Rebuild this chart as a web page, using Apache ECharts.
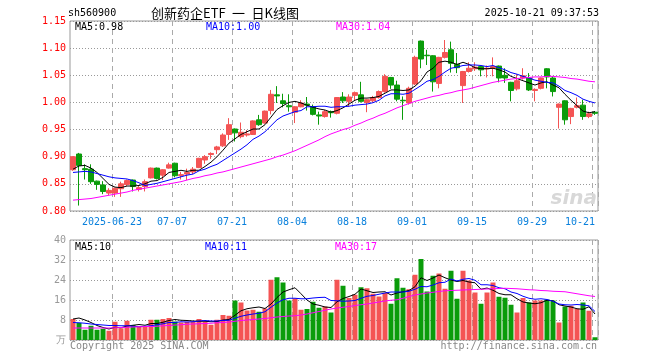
<!DOCTYPE html>
<html><head><meta charset="utf-8">
<script src="https://cdn.jsdelivr.net/npm/echarts@6/dist/echarts.min.js"></script>
<style>html,body{margin:0;padding:0;background:#fff}#c{width:660px;height:360px}</style>
</head><body><div id="c"></div>
<script>
const dates = ['2025-06-12','2025-06-13','2025-06-16','2025-06-17','2025-06-18','2025-06-19','2025-06-20',
'2025-06-23','2025-06-24','2025-06-25','2025-06-26','2025-06-27','2025-06-30','2025-07-01','2025-07-02','2025-07-03','2025-07-04',
'2025-07-07','2025-07-08','2025-07-09','2025-07-10','2025-07-11','2025-07-14','2025-07-15','2025-07-16','2025-07-17','2025-07-18',
'2025-07-21','2025-07-22','2025-07-23','2025-07-24','2025-07-25','2025-07-28','2025-07-29','2025-07-30','2025-07-31','2025-08-01',
'2025-08-04','2025-08-05','2025-08-06','2025-08-07','2025-08-08','2025-08-11','2025-08-12','2025-08-13','2025-08-14','2025-08-15',
'2025-08-18','2025-08-19','2025-08-20','2025-08-21','2025-08-22','2025-08-25','2025-08-26','2025-08-27','2025-08-28','2025-08-29',
'2025-09-01','2025-09-02','2025-09-03','2025-09-04','2025-09-05','2025-09-08','2025-09-09','2025-09-10','2025-09-11','2025-09-12',
'2025-09-15','2025-09-16','2025-09-17','2025-09-18','2025-09-19','2025-09-22','2025-09-23','2025-09-24','2025-09-25','2025-09-26',
'2025-09-29','2025-09-30','2025-10-09','2025-10-10','2025-10-13','2025-10-14','2025-10-15','2025-10-16','2025-10-17','2025-10-20',
'2025-10-21'];
const opens = [.876,.905,.878,.877,.855,.848,.833,.833,.841,.849,.857,.840,.845,.861,.879,.866,.879,.888,.865,.868,.872,.880,.894,.904,.913,.920,.941,.951,.937,.940,
.941,.968,.962,.985,1.014,1.003,.994,.982,.992,.997,.992,.977,.974,.983,.980,1.010,1.002,1.013,1.014,1.000,1.003,1.009,1.020,1.046,1.032,1.004,.999,1.034,1.113,1.087,
1.086,1.035,1.083,1.097,1.070,1.031,1.057,1.062,1.066,1.062,1.063,1.067,1.050,1.037,1.025,1.045,1.045,1.022,1.026,1.062,1.045,.991,1.003,.974,.991,.995,.974,.982];
const closes = [.900,.884,.876,.854,.849,.836,.838,.842,.850,.856,.845,.843,.854,.879,.860,.876,.885,.865,.867,.871,.877,.897,.900,.906,.918,.940,.959,.944,.945,.942,
.966,.959,.984,1.015,1.012,.998,.992,.992,.999,.995,.978,.975,.983,.981,1.009,1.003,1.010,1.018,1.002,1.005,1.009,1.020,1.048,1.032,1.006,1.003,1.026,1.083,1.080,1.086,
1.038,1.083,1.092,1.072,1.064,1.057,1.063,1.065,1.060,1.063,1.066,1.045,1.045,1.022,1.040,1.049,1.023,1.024,1.045,1.047,1.020,.997,.968,.989,.994,.974,.979,.980];
const lows = [.874,.810,.858,.850,.839,.831,.829,.826,.826,.846,.836,.836,.836,.860,.858,.857,.878,.862,.858,.857,.868,.879,.887,.896,.905,.918,.931,.928,.934,.937,
.940,.957,.961,.978,.999,.991,.983,.962,.991,.985,.976,.959,.972,.972,.978,.999,.992,1.003,1.000,.982,1.000,1.007,1.018,1.025,1.002,.968,.996,1.032,1.063,1.069,
1.020,1.026,1.081,1.055,1.054,.999,1.055,1.058,1.048,1.046,1.048,1.037,1.036,1.002,1.022,1.042,1.021,1.002,1.024,1.026,1.011,.952,.959,.960,.989,.968,.971,.977];
const highs = [.901,.907,.886,.886,.856,.855,.842,.843,.854,.858,.858,.846,.858,.880,.880,.877,.889,.889,.872,.878,.881,.898,.903,.908,.920,.943,.971,.952,.963,.949,
.967,.977,.985,1.023,1.030,1.016,1.015,.993,1.004,1.010,.996,.983,.986,.985,1.010,1.019,1.015,1.020,1.038,1.006,1.012,1.022,1.052,1.047,1.040,1.011,1.029,1.086,1.114,1.097,
1.087,1.084,1.115,1.112,1.091,1.058,1.074,1.074,1.067,1.068,1.083,1.068,1.063,1.038,1.052,1.063,1.054,1.026,1.046,1.063,1.048,.998,1.004,.990,1.009,1.005,.983,.984];
const ma5 = [.877,.883,.884,.879,.871,.860,.849,.844,.843,.846,.846,.847,.850,.855,.856,.862,.871,.873,.875,.873,.875,.875,.882,.890,.900,.912,.925,.933,.941,.946,
.951,.951,.959,.973,.987,.994,1.000,1.002,.999,.995,.991,.988,.986,.982,.985,.990,.997,1.004,1.008,1.008,1.009,1.011,1.017,1.023,1.023,1.022,1.023,1.030,1.040,1.056,
1.063,1.074,1.076,1.074,1.070,1.074,1.070,1.064,1.062,1.062,1.063,1.060,1.056,1.048,1.044,1.040,1.036,1.032,1.036,1.038,1.032,1.027,1.015,1.004,.994,.984,.981,.983];
const ma10 = [.871,.872,.873,.872,.869,.866,.863,.861,.860,.859,.856,.852,.847,.849,.851,.854,.857,.860,.863,.866,.868,.874,.877,.882,.886,.893,.900,.907,.914,.922,
.932,.938,.946,.957,.968,.975,.979,.983,.985,.992,.992,.993,.993,.991,.992,.992,.993,.995,.996,.997,.9995,1.004,1.012,1.016,1.016,1.015,1.017,1.024,1.031,1.039,
1.042,1.048,1.056,1.063,1.065,1.068,1.069,1.069,1.068,1.066,1.068,1.064,1.060,1.055,1.052,1.048,1.045,1.041,1.039,1.037,1.036,1.030,1.022,1.018,1.013,1.006,1.002,.999];
const ma30 = [.820,.821,.822,.823,.825,.827,.829,.831,.833,.835,.838,.840,.842,.844,.846,.848,.850,.852,.854,.857,.860,.862,.865,.867,.870,.872,.875,.878,.881,.884,
.887,.890,.893,.896,.900,.903,.907,.911,.916,.921,.926,.931,.937,.942,.946,.950,.953,.958,.962,.967,.971,.976,.980,.985,.990,.994,.998,1.002,1.005,1.008,
1.011,1.013,1.016,1.018,1.021,1.023,1.025,1.028,1.031,1.034,1.037,1.039,1.041,1.043,1.044,1.045,1.046,1.047,1.047,1.048,1.048,1.047,1.046,1.044,1.043,1.041,1.039,1.038];
const volumes = [8.4,6.8,4.1,5.7,4.1,4.5,3.7,7.3,4.7,7.7,6.0,5.5,5.5,8.1,8.1,8.4,8.8,7.4,7.0,7.3,7.3,8.4,7.3,6.1,8.1,10.0,9.7,15.8,15.0,11.8,
12.1,11.3,12.6,24.1,25.1,23.0,15.8,16.6,12.1,12.4,15.3,12.9,13.4,11.0,24.1,21.7,16.8,18.1,21.1,20.7,18.5,17.4,18.8,14.5,24.7,20.9,20.3,26.1,32.4,19.4,
25.7,26.6,20.5,27.7,16.5,27.7,23.8,19.0,14.5,19.0,23.0,17.3,16.9,14.1,11.0,16.8,15.0,15.8,15.8,16.1,15.8,7.0,13.4,13.7,12.5,15.0,11.7,1.1];
const vma5 = [8.4,8.8,8.0,7.0,5.8,5.0,4.4,5.1,4.9,5.6,5.9,6.2,5.9,6.6,6.6,7.1,7.8,8.2,7.9,7.8,7.6,7.5,7.5,7.3,7.4,8.0,8.2,9.9,11.7,12.5,
12.9,13.2,12.6,14.4,17.0,19.2,20.1,20.9,18.5,16.0,14.4,13.9,13.2,13.0,15.3,16.6,17.4,18.3,20.4,19.7,19.0,19.2,19.3,18.0,18.8,19.3,19.8,21.3,24.9,23.8,
24.8,26.0,24.9,24.0,23.4,23.8,23.2,22.9,20.3,20.8,19.9,18.6,18.1,18.1,16.5,15.2,14.8,14.5,14.9,15.9,15.7,14.1,13.6,13.2,12.5,12.3,13.3,10.4];
const vma10 = [7.0,6.9,6.7,6.4,6.2,6.0,5.8,5.8,5.7,5.7,5.5,5.3,5.5,5.7,6.1,6.5,7.0,7.0,7.3,7.2,7.3,7.6,7.8,7.6,7.6,7.8,7.9,8.7,9.5,10.0,
10.4,10.7,11.3,13.1,14.8,16.1,16.7,16.7,16.5,16.5,16.8,17.0,17.1,15.8,15.7,15.5,15.6,15.8,16.7,17.5,17.8,18.3,18.8,19.2,19.2,19.2,19.5,20.3,21.4,21.3,
22.0,22.9,23.1,24.4,23.6,24.3,24.6,23.9,22.1,22.1,21.8,20.9,20.5,19.2,18.6,17.5,16.7,16.3,16.5,16.2,15.5,14.4,14.1,14.0,14.2,14.0,13.7,11.4];
const vma30 = [4.8,4.8,4.8,4.8,4.8,4.8,4.8,4.9,5.0,5.1,5.2,5.3,5.4,5.4,5.5,5.7,5.8,6.0,6.1,6.3,6.4,6.5,6.6,6.7,6.9,7.0,7.2,7.5,7.8,8.0,
8.2,8.4,8.6,8.9,9.2,9.4,9.6,9.7,10.0,10.4,10.9,11.4,11.9,12.4,12.8,13.1,13.4,13.8,14.1,14.4,14.8,15.2,15.6,15.9,16.1,16.7,17.4,18.0,18.4,18.8,
19.1,19.4,19.7,19.8,19.9,20.0,20.1,20.2,20.3,20.4,20.5,20.6,20.7,20.6,20.5,20.3,20.1,20.0,19.8,19.7,19.5,19.4,19.3,18.9,18.5,18.1,17.7,17.4];
const tickDates = ['2025-06-23','2025-07-07','2025-07-21','2025-08-04','2025-08-18','2025-09-01','2025-09-15','2025-09-29','2025-10-21'];
const tickLabels = ['2025-06-23','07-07','07-21','08-04','08-18','09-01','09-15','09-29','10-21'];
const priceMin = 0.80, priceMax = 1.15, priceStep = 0.05;
const volMin = 0, volMax = 40, volStep = 8;

const RED = '#f45454', GREEN = '#0a9c0a';
const MONO = '"DejaVu Sans Mono", "Liberation Mono", monospace';
const tickIdx = new Set(tickDates.map(d => dates.indexOf(d)));
const last = dates.length - 1;

const chart = echarts.init(document.getElementById('c'), null, {renderer: 'canvas'});
function xAxis(grid, showLabel) {
  return {
    type: 'category', gridIndex: grid, data: dates, boundaryGap: true,
    axisLine: {show: false}, axisTick: {show: false},
    axisLabel: {
      show: showLabel, interval: (i) => tickIdx.has(i), margin: 6,
      formatter: (v) => {
        const j = tickDates.indexOf(v);
        if (j < 0) return '';
        return (j === tickDates.length - 1 ? '{e|' : '{n|') + tickLabels[j] + '}';
      },
      rich: {
        n: {color: '#0a80dc', fontFamily: MONO, fontSize: 10, padding: [0, 6, 0, 0]},
        e: {color: '#0a80dc', fontFamily: MONO, fontSize: 10, padding: [0, 30, 0, 0]}
      }
    },
    splitLine: {show: true, interval: (i) => tickIdx.has(i), lineStyle: {color: '#aaa', width: 1, type: [5, 4]}}
  };
}
function line(name, data, color, xi) {
  return {name, type: 'line', data, xAxisIndex: xi, yAxisIndex: xi, symbol: 'none', silent: true,
    lineStyle: {color, width: 1}, z: 5, animation: false};
}
function txt(x, y, text, fill, font, align) {
  return {type: 'text', x, y, silent: true, z: 100,
    style: {text, fill, font, textAlign: align || 'left', align: align || 'left', textVerticalAlign: 'middle', verticalAlign: 'middle'}};
}
const F10 = '10px ' + MONO;
chart.setOption({
  animation: false,
  backgroundColor: '#fff',
  grid: [
    {left: 70, top: 21, width: 528, height: 190, show: true, borderColor: '#999', borderWidth: 1, backgroundColor: 'transparent'},
    {left: 70, top: 240, width: 528, height: 100, show: true, borderColor: '#999', borderWidth: 1, backgroundColor: 'transparent'}
  ],
  xAxis: [xAxis(0, true), xAxis(1, false)],
  yAxis: [
    {type: 'value', gridIndex: 0, min: priceMin, max: priceMax, interval: priceStep, scale: true,
      axisLine: {show: false}, axisTick: {show: false},
      axisLabel: {color: '#ff0000', fontFamily: MONO, fontSize: 10, margin: 4, formatter: (v) => v.toFixed(2)},
      splitLine: {lineStyle: {color: '#999', type: [1, 2]}}},
    {type: 'value', gridIndex: 1, min: volMin, max: volMax, interval: volStep,
      axisLine: {show: false}, axisTick: {show: false},
      axisLabel: {color: '#999', fontFamily: MONO, fontSize: 10, margin: 4, formatter: (v) => v === 0 ? '万' : String(v)},
      splitLine: {lineStyle: {color: '#999', type: [1, 2]}}}
  ],
  series: [
    {type: 'candlestick', xAxisIndex: 0, yAxisIndex: 0, barWidth: 5, silent: true,
      data: dates.map((d, i) => [opens[i], closes[i], lows[i], highs[i]]),
      itemStyle: {color: RED, color0: GREEN, borderColor: RED, borderColor0: GREEN, borderWidth: 1}},
    line('MA5', ma5, '#000000', 0),
    line('MA10', ma10, '#0000ff', 0),
    line('MA30', ma30, '#ff00ff', 0),
    {type: 'bar', xAxisIndex: 1, yAxisIndex: 1, barWidth: 5, silent: true,
      data: volumes.map((v, i) => ({value: v, itemStyle: {color: closes[i] >= opens[i] ? RED : GREEN}}))},
    line('VMA5', vma5, '#000000', 1),
    line('VMA10', vma10, '#0000ff', 1),
    line('VMA30', vma30, '#ff00ff', 1)
  ],
  graphic: [
    txt(68, 13, 'sh560900', '#000', F10),
    txt(151, 13, '创新药企ETF\u2002一\u2002日K线图', '#000', '13px "Noto Sans CJK SC", sans-serif'),
    txt(599, 13, '2025-10-21 09:37:53', '#000', F10, 'right'),
    txt(75, 27, 'MA5:' + ma5[last].toFixed(2), '#000', F10),
    txt(206, 27, 'MA10:' + ma10[last].toFixed(2), '#0000ff', F10),
    txt(336, 27, 'MA30:' + ma30[last].toFixed(2), '#ff00ff', F10),
    txt(75, 247, 'MA5:' + Math.round(vma5[last]), '#000', F10),
    txt(205, 247, 'MA10:' + Math.round(vma10[last]), '#0000ff', F10),
    txt(335, 247, 'MA30:' + Math.round(vma30[last]), '#ff00ff', F10),
    txt(70, 346, 'Copyright 2025 SINA.COM', '#888', F10),
    txt(597, 346, 'http://finance.sina.com.cn', '#888', F10, 'right'),
    txt(597, 199, 'sina', '#d8d8d8', 'italic bold 20px "DejaVu Sans", sans-serif', 'right')
  ]
});
</script></body></html>
